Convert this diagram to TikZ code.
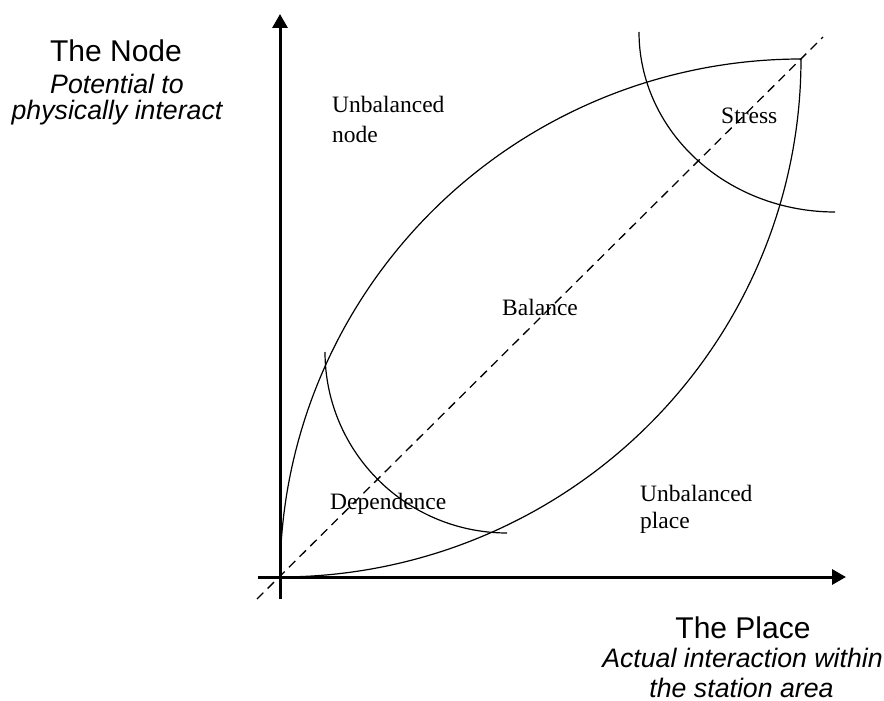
\documentclass[tikz,border=0pt]{standalone}
\usepackage{fontspec}
\setmainfont{Liberation Serif}
\setsansfont{Liberation Sans}
\usetikzlibrary{arrows.meta}
\begin{document}
\begin{tikzpicture}[x=1pt,y=-1pt,
  axis/.style={line width=3pt,-{Triangle[length=14pt,width=15pt]}},
  curve/.style={line width=1.2pt},
  diag/.style={line width=1.3pt,dash pattern=on 9pt off 6pt},
  region/.style={font=\fontsize{23.5}{28}\selectfont,inner sep=0pt,anchor=base west},
  heading/.style={font=\sffamily\fontsize{30}{34}\selectfont,inner sep=0pt,anchor=base},
  subheading/.style={font=\sffamily\itshape\fontsize{26.7}{30}\selectfont,inner sep=0pt,anchor=base}]
\useasboundingbox (0,0) rectangle (884,701);

% key points
\coordinate (O) at (280,577);
\coordinate (T) at (801,59);
\coordinate (ybot) at (280,599);
\coordinate (ytop) at (280,14);
\coordinate (xleft) at (258,577);
\coordinate (xright) at (846,577);
\coordinate (dstart) at (257,599);
\coordinate (dend) at (823,37);

% diagonal of balance
\draw[diag] (dstart) -- (dend);

% lens: upper and lower boundaries
\draw[curve] plot[domain=180:270,samples=90,smooth] ({801+521*cos(\x)},{577+518*sin(\x)});
\draw[curve] plot[domain=90:0,samples=90,smooth] ({280+521*cos(\x)},{59+518*sin(\x)});

% stress and dependence arcs
\draw[curve] plot[domain=180:90,samples=60,smooth] ({835+196*cos(\x)},{32+180*sin(\x)});
\draw[curve] plot[domain=180:90,samples=60,smooth] ({507+182*cos(\x)},{352+181*sin(\x)});

% axes
\draw[axis] (ybot) -- (ytop);
\draw[axis] (xleft) -- (xright);

% region labels
\node[region] (un1) at (332,113) {Unbalanced};
\node[region] (un2) at (332,142) {node};
\node[region] (st) at (721,123) {Stress};
\node[region] (ba) at (502,315) {Balance};
\node[region] (de) at (330,509) {Dependence};
\node[region] (up1) at (640,501) {Unbalanced};
\node[region] (up2) at (640,528) {place};

% axis titles
\node[heading] (nd) at (116,62) {The Node};
\node[subheading] (nd1) at (117,94) {Potential to};
\node[subheading] (nd2) at (117,119) {physically interact};
\node[heading] (pl) at (743,638) {The Place};
\node[subheading] (pl1) at (742.5,667) {Actual interaction within};
\node[subheading] (pl2) at (741.5,697) {the station area};
\end{tikzpicture}
\end{document}
